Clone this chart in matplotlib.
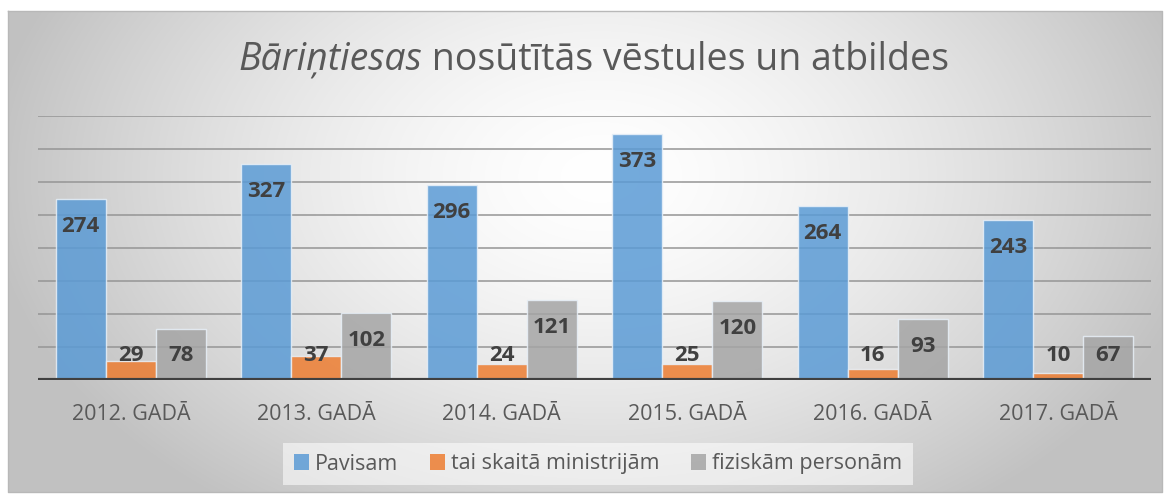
import numpy as np
import matplotlib.pyplot as plt
from matplotlib.patches import Patch

# dati
years = ['2012. GADĀ', '2013. GADĀ', '2014. GADĀ', '2015. GADĀ', '2016. GADĀ', '2017. GADĀ']
pavisam = [274, 327, 296, 373, 264, 243]
ministrijam = [29, 37, 24, 25, 16, 10]
fiziskam = [78, 102, 121, 120, 93, 67]
series_names = ['Pavisam', 'tai skaitā ministrijām', 'fiziskām personām']
colors = ['#5b9bd5', '#ed7d31', '#a5a5a5']

W, H = 1170, 495
fig = plt.figure(figsize=(W / 100, H / 100), dpi=100)
fig.patch.set_facecolor('white')
font = 'Open Sans'

# fons ar radiālu gradientu
bg = fig.add_axes([0, 0, 1, 1])
bg.axis('off')
yy, xx = np.mgrid[0:H, 0:W]
d = np.sqrt(((xx - 600) / 620.0) ** 2 + ((yy - 170) / 420.0) ** 2)
shade = 1.0 - 0.24 * np.clip(d, 0, 1) ** 1.5
img = np.dstack([shade, shade, shade])
bg.imshow(img, extent=(8, 1162, 492, 11), aspect='auto', zorder=0)
bg.plot([8, 1162, 1162, 8, 8], [11, 11, 492, 492, 11], color='#b8b8b8', lw=1, zorder=1)
bg.set_xlim(0, W)
bg.set_ylim(H, 0)

ax = fig.add_axes([38 / W, 1 - 380 / H, (1151 - 38) / W, (380 - 116) / H])
ax.patch.set_alpha(0)
x = np.arange(len(years))
bw = 0.27
ax.set_ylim(0, 400)
ax.set_xlim(-0.5, len(years) - 0.5)
ax.set_yticks(np.arange(50, 401, 50))
ax.yaxis.grid(True, color='#959595', lw=1.1)
ax.set_axisbelow(True)
for s in ax.spines.values():
    s.set_visible(False)
ax.tick_params(axis='y', left=False, labelleft=False)
ax.tick_params(axis='x', bottom=False, pad=14)
ax.set_xticks(x)
ax.set_xticklabels(years, fontsize=15.5, color='#595959', family=font)

for i, (vals, c) in enumerate(zip([pavisam, ministrijam, fiziskam], colors)):
    pos = x + (i - 1) * bw
    ax.bar(pos, vals, bw, color=c, alpha=0.85, edgecolor='#e8f0f8', lw=1, zorder=2)
    for p, v in zip(pos, vals):
        ax.text(p, max(v - 42, 37), str(v), ha='center', va='center', fontsize=16,
                fontweight='bold', color='#404040', family=font, zorder=4)

ax.axhline(0, color='#404040', lw=3, zorder=3)

handles = [Patch(facecolor=c, alpha=0.85) for c in colors]
leg = fig.legend(handles, series_names, loc='center', bbox_to_anchor=(598 / W, 1 - 464 / H),
                 ncol=3, frameon=True, handlelength=0.7, handleheight=0.7,
                 handletextpad=0.25, columnspacing=1.5, borderpad=0.5, borderaxespad=0,
                 fancybox=False, prop={'family': font, 'size': 15.5})
leg.get_frame().set_facecolor('white')
leg.get_frame().set_alpha(0.55)
leg.get_frame().set_linewidth(0)
for t in leg.get_texts():
    t.set_color('#595959')

# virsraksts ar slīprakstu pirmajā vārdā
ty = 1 - 60 / H
t1 = fig.text(0, ty, 'Bāriņtiesas', style='italic', fontsize=27, color='#595959',
              family=font, va='center')
t2 = fig.text(0, ty, ' nosūtītās vēstules un atbildes', fontsize=27, color='#595959',
              family=font, va='center')
fig.canvas.draw()
r = fig.canvas.get_renderer()
w1 = t1.get_window_extent(r).width
w2 = t2.get_window_extent(r).width
start = 594 - (w1 + w2) / 2
t1.set_x(start / W)
t2.set_x((start + w1) / W)

fig.savefig('out.png', dpi=100)
